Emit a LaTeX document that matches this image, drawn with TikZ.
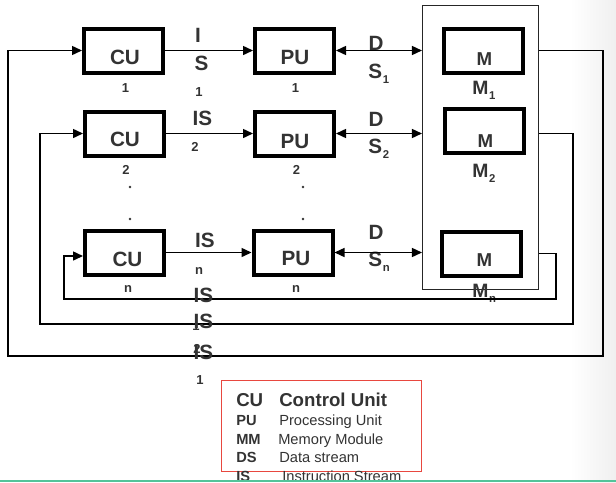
\documentclass[tikz,border=0pt]{standalone}
\usepackage{fontspec}
\setmainfont{Liberation Sans}
\usetikzlibrary{arrows.meta}
\definecolor{txt}{HTML}{333333}
\definecolor{legred}{HTML}{E8473F}
\definecolor{mint}{HTML}{52C49A}
\newcommand\lsub[1]{\kern0.6pt\raisebox{-3.75pt}{\fontsize{8.5}{9}\selectfont #1}}
\begin{document}
\begin{tikzpicture}[x=0.75pt,y=-0.75pt,
  box/.style={draw=black, line width=3pt, minimum width=59.25pt, minimum height=33pt, inner sep=0pt},
  membox/.style={draw=black!85, line width=0.8pt, minimum width=87pt, minimum height=213pt, inner sep=0pt},
  lbl/.style={font=\bfseries\fontsize{15.5}{18}\selectfont, text=txt, inner sep=0pt},
  mlbl/.style={font=\bfseries\fontsize{14}{16}\selectfont, text=txt, inner sep=0pt},
  mname/.style={font=\bfseries\fontsize{14.5}{16}\selectfont, text=txt, inner sep=0pt, anchor=base west},
  dslbl/.style={lbl, anchor=base west},
  sml/.style={font=\bfseries\fontsize{9.75}{11}\selectfont, text=txt, inner sep=0pt},
  wire/.style={line width=1.1pt, draw=black},
  arr/.style={wire, -{Triangle[length=7.5pt,width=6.75pt]}},
  darr/.style={wire, {Triangle[length=7.5pt,width=6.75pt]}-{Triangle[length=7.5pt,width=6.75pt]}},
  dotmark/.style={circle, fill=txt, inner sep=0pt, minimum size=2pt},
  legbold/.style={font=\bfseries\fontsize{14}{16}\selectfont, text=txt, inner sep=0pt, anchor=base west},
  legkey/.style={font=\bfseries\fontsize{11}{13}\selectfont, text=txt, inner sep=0pt, anchor=base west},
  legtext/.style={font=\fontsize{11}{13}\selectfont, text=txt, inner sep=0pt, anchor=base west},
]
\useasboundingbox (0,0) rectangle (616,482);
\shade[left color=white, right color=black!6] (570,0) rectangle (616,482);

% memory enclosure
\node[membox] (mem) at (480.5,147.5) {};

% boxes
\node[box] (cu1) at (123.5,50.5) {};
\node[box] (cu2) at (124.5,133.5) {};
\node[box] (cun) at (124.5,252.5) {};
\node[box] (pu1) at (294.5,50.5) {};
\node[box] (pu2) at (294.5,133.5) {};
\node[box] (pun) at (293,252.5) {};
\node[box] (m1) at (483,50.5) {};
\node[box] (m2) at (484.5,131) {};
\node[box] (mn) at (481,253.5) {};

% box texts
\node[lbl] (cu1t) at (125,57.5) {CU};
\node[lbl] (cu2t) at (125,139.5) {CU};
\node[lbl] (cunt) at (127.5,259) {CU};
\node[lbl] (pu1t) at (295,57.5) {PU};
\node[lbl] (pu2t) at (295,141.5) {PU};
\node[lbl] (punt) at (296,258.5) {PU};
\node[mlbl] (m1t) at (484.5,59.5) {M};
\node[mlbl] (m2t) at (485.5,141) {M};
\node[mlbl] (mnt) at (484.5,260) {M};

% indices under boxes
\node[sml] (cu1i) at (125.5,88) {1};
\node[sml] (cu2i) at (126,169.5) {2};
\node[sml] (cuni) at (128,289) {n};
\node[sml] (pu1i) at (295.5,88) {1};
\node[sml] (pu2i) at (296.5,169.5) {2};
\node[sml] (puni) at (296,289) {n};

% vertical dots
\node[dotmark] (d1) at (130,187) {};
\node[dotmark] (d2) at (130,219) {};
\node[dotmark] (d3) at (303,187) {};
\node[dotmark] (d4) at (303,219) {};

% memory labels
\node[mname] (m1n) at (472,94) {M\lsub{1}};
\node[mname] (m2n) at (472,177) {M\lsub{2}};
\node[mname] (mnn) at (472,297) {M\lsub{n}};

% IS labels
\node[lbl] (is1a) at (198,35.5) {I};
\node[lbl] (is1b) at (201.5,63) {S};
\node[sml] (is1c) at (199,92) {1};
\node[lbl] (is2a) at (202.5,118.5) {IS};
\node[sml] (is2b) at (195,147) {2};
\node[lbl] (isna) at (205,240) {IS};
\node[sml] (isnb) at (199,271) {n};

% DS labels
\node[lbl] (ds1a) at (376,43.5) {D};
\node[dslbl] (ds1b) at (368,78) {S\lsub{1}};
\node[lbl] (ds2a) at (376,119) {D};
\node[dslbl] (ds2b) at (368,153.5) {S\lsub{2}};
\node[lbl] (dsna) at (376,232) {D};
\node[dslbl] (dsnb) at (368,266) {S\lsub{n}};

% connectors
\draw[arr] (cu1) -- (pu1);
\draw[arr] (cu2) -- (pu2);
\draw[arr] (cun) -- (pun);
\draw[darr] (pu1.east) -- (pu1.east -| mem.west);
\draw[darr] (pu2.east) -- (pu2.east -| mem.west);
\draw[darr] (pun.east) -- (pun.east -| mem.west);

% feedback loops
\coordinate (r1) at (603,356);
\coordinate (l1) at (8,50.5);
\coordinate (r2) at (573,324);
\coordinate (l2) at (40,133.5);
\coordinate (rn) at (556,299);
\coordinate (ln) at (64,256);
\draw[arr] (mem.east |- m1) -| (r1) -| (l1) -- (cu1.west);
\draw[arr] (mem.east |- pu2) -| (r2) -| (l2) -- (cu2.west);
\draw[arr] (mem.east |- mn) -| (rn) -| (ln) -- (ln -| cun.west);

% stacked loop labels
\node[lbl] (lis1) at (203.5,295.5) {IS};
\node[lbl] (lis2) at (203.5,321) {IS};
\node[lbl] (lis3) at (203.5,352) {IS};
\begin{scope}
  \clip (190,323) rectangle (199,330);
  \node[sml] (lisx) at (196,326) {1};
\end{scope}
\node[sml] (lisy) at (197,349) {2};
\node[sml] (lisz) at (200,380) {1};

% legend
\node[draw=legred, line width=1pt, minimum width=149.8pt, minimum height=68pt, inner sep=0pt] (leg) at (321.5,426) {};
\node[legbold] (k1) at (236,406) {CU};
\node[legbold] (v1) at (279,406) {Control Unit};
\node[legkey] (k2) at (236,425) {PU};
\node[legtext] (v2) at (279,425) {Processing Unit};
\node[legkey] (k3) at (236,444) {MM};
\node[legtext] (v3) at (278,444) {Memory Module};
\node[legkey] (k4) at (236,462.5) {DS};
\node[legtext] (v4) at (279,462.5) {Data stream};
\node[legkey] (k5) at (236,481.5) {IS};
\node[legtext] (v5) at (282,481.5) {Instruction Stream};

\draw[mint, line width=1.5pt] (0,481) -- (616,481);
\end{tikzpicture}
\end{document}
